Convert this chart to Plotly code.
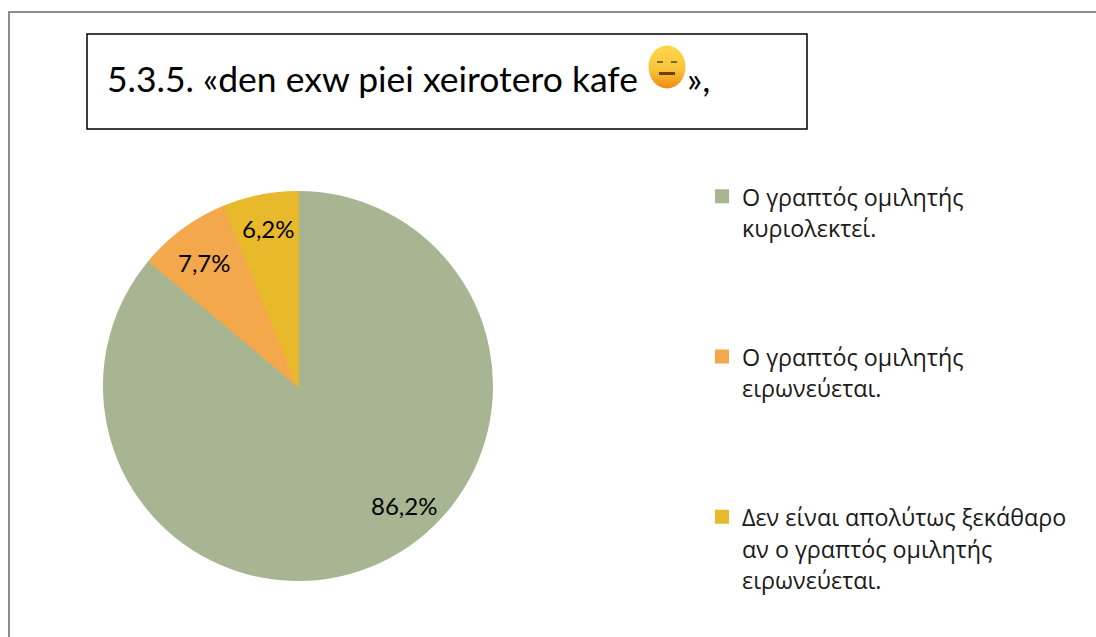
import base64
import plotly.graph_objects as go

categories = [
    "Ο γραπτός ομιλητής<br>κυριολεκτεί.",
    "Ο γραπτός ομιλητής<br>ειρωνεύεται.",
    "Δεν είναι απολύτως ξεκάθαρο<br>αν ο γραπτός ομιλητής<br>ειρωνεύεται.",
]
values = [86.2, 7.7, 6.2]
value_labels = ["86,2%", "7,7%", "6,2%"]
colors = ["#A7B593", "#F4A84C", "#E8B92B"]
title_text = "5.3.5. «den exw piei xeirotero kafe"
title_end = "»,"

W, H = 1096, 637
LEGEND_FONT = "Open Sans"
TITLE_FONT = "Lato"
LEG = 23.3

emoji_svg = """<svg xmlns='http://www.w3.org/2000/svg' width='38' height='44' viewBox='0 0 38 44'>
<defs><linearGradient id='g' x1='0' y1='0' x2='0' y2='1'>
<stop offset='0' stop-color='#FBD64A'/><stop offset='0.55' stop-color='#F9C53A'/><stop offset='1' stop-color='#F08A14'/>
</linearGradient></defs>
<ellipse cx='19' cy='22' rx='18.5' ry='21.5' fill='url(#g)'/>
<rect x='9' y='16' width='6' height='2' fill='#7A6426'/>
<rect x='23' y='16' width='6' height='2' fill='#7A6426'/>
<rect x='11' y='27' width='16' height='3' fill='#6B3F10'/>
</svg>"""
emoji_src = "data:image/svg+xml;base64," + base64.b64encode(emoji_svg.encode()).decode()


def span(t):
    return "<br>".join(f'<span style="font-size:{LEG}px">{p}</span>' for p in t.split("<br>"))


legend_names = [span(categories[0]) + "<br> <br> <br>",
                span(categories[1]) + "<br> <br> <br>",
                span(categories[2])]

fig = go.Figure(go.Pie(
    labels=legend_names,
    values=values,
    sort=False,
    direction="clockwise",
    rotation=0,
    textinfo="none",
    hoverinfo="percent",
    marker=dict(colors=colors, line=dict(color=colors, width=2)),
    domain=dict(x=[104 / W, 492 / W], y=[1 - 580 / H, 1 - 192 / H]),
))

label_pos = [(404, 505), (204, 262), (268, 228)]
ann = [dict(x=x / W, y=1 - y / H, xref="paper", yref="paper", text=t, showarrow=False,
            font=dict(family=TITLE_FONT, size=24, color="#000000"), xanchor="center", yanchor="middle")
       for t, (x, y) in zip(value_labels, label_pos)]
ann.append(dict(x=105 / W, y=1 - 78 / H, xref="paper", yref="paper", text=title_text, showarrow=False,
                font=dict(family=TITLE_FONT, size=35.5, color="#000000"), xanchor="left", yanchor="middle"))
ann.append(dict(x=685 / W, y=1 - 78 / H, xref="paper", yref="paper", text=title_end, showarrow=False,
                font=dict(family=TITLE_FONT, size=35.5, color="#000000"), xanchor="left", yanchor="middle"))

fig.update_layout(
    width=W, height=H,
    autosize=False,
    margin=dict(l=0, r=0, t=0, b=0),
    paper_bgcolor="#FFFFFF",
    font=dict(family=LEGEND_FONT, color="#000000"),
    legend=dict(x=702 / W, y=1 - 174 / H, xanchor="left", yanchor="top", valign="top",
                font=dict(family=LEGEND_FONT, size=24.2, color="#1a1a1a"),
                bgcolor="rgba(0,0,0,0)", itemclick=False, itemdoubleclick=False,
                traceorder="normal"),
    annotations=ann,
    images=[dict(source=emoji_src, xref="paper", yref="paper", x=648 / W, y=1 - 45 / H,
                 sizex=38 / W, sizey=44 / H, xanchor="left", yanchor="top", layer="above",
                 sizing="stretch")],
    shapes=[
        dict(type="line", xref="paper", yref="paper", x0=9 / W, x1=9 / W, y0=0, y1=1 - 12 / H,
             line=dict(color="#8C8C8C", width=2)),
        dict(type="line", xref="paper", yref="paper", x0=8 / W, x1=1, y0=1 - 12 / H, y1=1 - 12 / H,
             line=dict(color="#8C8C8C", width=2)),
        dict(type="rect", xref="paper", yref="paper", x0=87 / W, x1=807 / W, y0=1 - 129 / H, y1=1 - 34 / H,
             line=dict(color="#000000", width=1.5), fillcolor="#FFFFFF", layer="below"),
    ],
)
fig.write_html("out.html", config=dict(displayModeBar=False),
               post_script="document.body.style.margin='0';document.body.style.overflow='hidden';")
